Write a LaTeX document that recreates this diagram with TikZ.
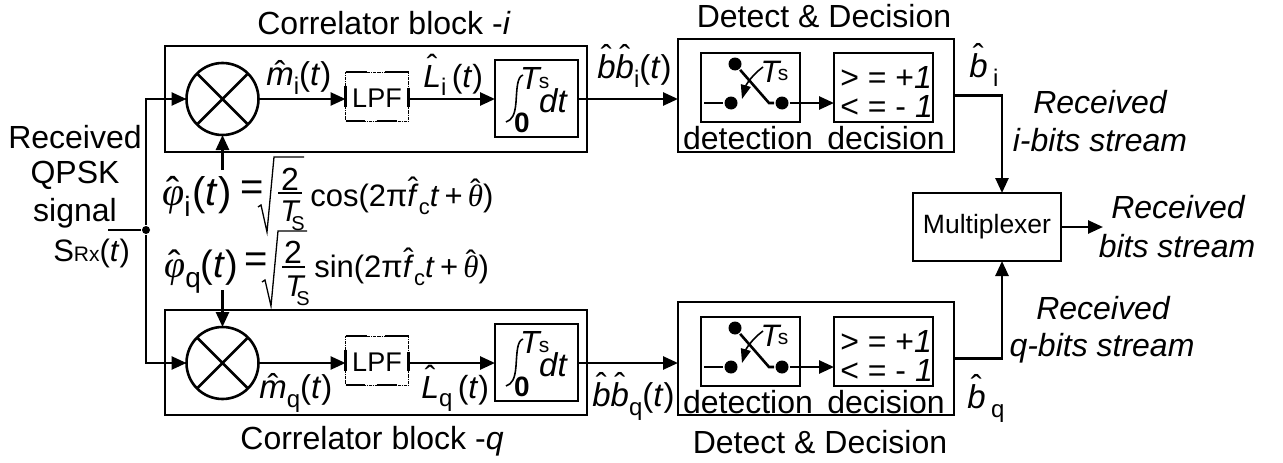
\RequirePackage{fix-cm}
\documentclass[tikz,border=0pt]{standalone}
\usepackage{fontspec}
\setmainfont{Liberation Sans}
\newfontfamily\serifit{Liberation Serif}
\usetikzlibrary{arrows.meta,calc}
\newcommand\fs[1]{\fontsize{#1}{#1}\selectfont}
\newcommand\hatit[2][.03em]{\mbox{\setbox0=\hbox{#2}\rlap{\hbox to\wd0{\hss\raisebox{#1}{\normalfont\char"02C6}\hss}}\box0}}
\newcommand\sub[2][24]{\raisebox{-.28em}{\fs{#1}\normalfont\upshape #2}}
\newcommand\phihat{\hatit[-.02em]{\serifit\itshape φ}}
\newcommand\frT{\textit{T}\kern-9pt\raisebox{-9pt}{\fs{20}S}}
\begin{document}
\begin{tikzpicture}[x=1pt,y=-1pt,line width=2.6pt,
  txt/.style={inner sep=0pt,font=\fs{32}},
  lbl/.style={inner sep=0pt,font=\fs{32},anchor=base west},
  box/.style={draw,line width=2.6pt,inner sep=0pt,outer sep=0pt,anchor=north west},
  ar/.style={-{Triangle[length=15pt,width=13pt]},line width=2.6pt},
  pl/.style={line width=2.6pt},
  thinl/.style={line width=1.3pt},
  itl/.style={inner sep=0pt,font=\fs{32}\itshape},
  dotn/.style={circle,fill,inner sep=0pt,minimum size=#1}]
\useasboundingbox (0,0) rectangle (1283,463);
% outer blocks
\node[box,minimum width=422pt,minimum height=106pt] (cti) at (165,46) {};
\node[box,minimum width=422pt,minimum height=105pt] (ctq) at (165,310) {};
\node[box,minimum width=276pt,minimum height=113pt] (ddi) at (678,39) {};
\node[box,minimum width=276pt,minimum height=113pt] (ddq) at (678,302) {};
\node[txt] (tcti) at (384,23) {Correlator block -\textit{i}};
\node[txt] (tctq) at (372,441) {Correlator block -\textit{q}};
\node[txt] (tddi) at (824,16) {Detect \& Decision};
\node[txt] (tddq) at (820,442) {Detect \& Decision};
% mixers
\foreach \n/\yy in {mi/99,mq/363}{
  \node[draw,circle,line width=2.6pt,minimum size=72pt,inner sep=0pt,outer sep=0pt] (\n) at (222.5,\yy) {};
  \draw[pl] (\n.45) -- (\n.225) (\n.135) -- (\n.315);
}
% LPF
\foreach \n/\yy in {li/72,lq/336}{
  \node[anchor=north west,minimum width=63pt,minimum height=49pt,inner sep=0pt,outer sep=0pt,draw,line width=.8pt,densely dashdotted] (\n) at (345.5,\yy) {};
  \node[inner sep=0pt,font=\fs{27}] (\n t) at ($(\n.center)+(0,2)$) {LPF};
  \draw[line width=2.4pt] (\n.north west) -- ++(21,0) ($(\n.north west)+(39,0)$) -- (\n.north east)
     (\n.south west) -- ++(19,0) ($(\n.south west)+(31,0)$) -- ++(20,0)
     ($(\n.east)+(0,-9)$) -- ($(\n.east)+(0,10)$) ($(\n.west)+(0,-11)$) -- ($(\n.west)+(0,10)$);
}
% integrators
\foreach \n/\a/\h in {ii/60/77,iq/324/77}{
  \node[box,minimum width=83pt,minimum height=\h pt] (\n) at (495,\a) {};
  \node[itl,font=\fs{33}\itshape] (\n d) at ($(\n.north west)+(58,41)$) {dt};
  \node[itl] (\n T) at ($(\n.north west)+(35,18)$) {T};
  \node[txt,font=\fs{21}] (\n s) at ($(\n.north west)+(49,23)$) {s};
  \node[txt,font=\fs{28}\bfseries] (\n 0) at ($(\n.south west)+(27,-14)$) {0};
  \draw[line width=1.6pt] ($(\n.north west)+(28,15)$) .. controls ($(\n.north west)+(22,17)$) and ($(\n.north west)+(22,28)$) .. ($(\n.north west)+(21,42)$) .. controls ($(\n.north west)+(20,55)$) and ($(\n.north west)+(17,60)$) .. ($(\n.north west)+(11,62)$);
}
% detection, decision
\foreach \n/\a in {i/53,q/317}{
  \node[box,minimum width=99pt,minimum height=69pt] (det\n) at (701,\a) {};
  \node[box,minimum width=99pt,minimum height=69pt] (dec\n) at (834,\a) {};
  \node[dotn=13pt] (da\n) at (731,\a+50) {};
  \node[dotn=13pt] (db\n) at (782,\a+50) {};
  \node[dotn=13pt] (dc\n) at (735,\a+11) {};
  \coordinate (s\n) at (704,\a+50);
  \coordinate (e\n) at (795,\a+50);
  \coordinate (k\n) at (769,\a+50);
  \coordinate (u\n) at (763,\a+14);
  \coordinate (w\n) at (742,\a+46);
  \draw[pl] (s\n) -- (da\n);
  \draw[pl] (db\n) -- (e\n);
  \draw[pl] (dc\n) -- (k\n) -- (db\n);
  \draw[-{Triangle[length=14pt,width=10pt]},line width=1.6pt] (u\n) .. controls ($(u\n)+(-11,8)$) and ($(w\n)+(4,-14)$) .. (w\n);
  \node[itl,font=\fs{31}\itshape] (tt\n) at (770,\a+19) {T};
  \node[txt,font=\fs{21}] (ts\n) at (783,\a+22) {s};
  \draw[ar] (e\n) -- (dec\n.west |- e\n);
  \node[txt] (la\n) at (748,\a+85) {detection};
  \node[txt] (lb\n) at (886,\a+85) {decision};
  \node[txt,anchor=base west] (ga\n) at (839,\a+35) {> = +\textit{1}};
  \node[txt,anchor=base west] (gb\n) at (839,\a+64) {< = - \textit{1}};
}
% multiplexer
\node[box,minimum width=148pt,minimum height=68pt] (mux) at (913,193) {};
\node[inner sep=0pt,font=\fs{26.5}] (muxt) at (mux.center) {Multiplexer};
\coordinate (mt) at ($(mux.north west)+(89,0)$);
\coordinate (mb) at ($(mux.south west)+(89,0)$);
\coordinate (mo) at (1103,227);
% signal feed
\coordinate (src) at (108,230);
\node[dotn=8pt] (jn) at (146,230) {};
\draw[pl] (src) -- (jn);
\draw[ar] (jn) |- (mi.west);
\draw[ar] (jn) |- (mq.west);
\coordinate (pi) at (222.5,170);
\coordinate (pq) at (222.5,290);
\draw[ar] (pi) -- (mi.south);
\draw[ar] (pq) -- (mq.north);
% chains
\draw[ar] (mi.east) -- (mi.east -| li.west);
\draw[ar] (mi.east -| li.east) -- (mi.east -| ii.west);
\draw[ar] (mi.east -| ii.east) -- (mi.east -| ddi.west);
\draw[ar] (mq.east) -- (mq.east -| lq.west);
\draw[ar] (mq.east -| lq.east) -- (mq.east -| iq.west);
\draw[ar] (mq.east -| iq.east) -- (mq.east -| ddq.west);
\draw[ar] (ddi.east) -| (mt);
\draw[ar] (ddq.east) -| (mb);
\draw[ar] (mux.east) -- (mo);
% left labels
\node[txt] (r1) at (75,137) {Received};
\node[txt] (r2) at (75,175) {QPSK};
\node[txt] (r3) at (75,213) {signal};
\node[lbl,font=\fs{31}] (r4) at (52,261) {S\fs{21}Rx\fs{31}(\textit{t})};
% signal labels
\node[lbl,font=\fs{33}] (lm1) at (265,85) {\hatit{\textit{m}}\sub{i}(\textit{t})};
\node[lbl] (lL1) at (422,87) {\hatit[.3em]{\textit{L}}\sub{i}\,(\textit{t})};
\node[lbl,font=\fs{33}] (lb1) at (596,78) {\hatit[.3em]{\textit{b}}\hatit[.3em]{\textit{b}}\sub{i}(\textit{t})};
\node[lbl,font=\fs{33}] (lo1) at (968,77) {\hatit[.3em]{\textit{b}}\,\sub{i}};
\node[lbl,font=\fs{33}] (lm2) at (258,398) {\hatit{\textit{m}}\sub{q}(\textit{t})};
\node[lbl] (lL2) at (420,398) {\hatit[.3em]{\textit{L}}\sub{q}\,(\textit{t})};
\node[lbl,font=\fs{33}] (lb2) at (591,406) {\hatit[.3em]{\textit{b}}\hatit[.3em]{\textit{b}}\sub{q}(\textit{t})};
\node[lbl,font=\fs{33}] (lo2) at (966,408) {\hatit[.3em]{\textit{b}}\,\sub{q}};
% right labels
\node[itl] (o1) at (1100,102) {Received};
\node[itl] (o2) at (1100,140) {i-bits stream};
\node[itl] (o3) at (1178,207) {Received};
\node[itl] (o4) at (1177,246) {bits stream};
\node[itl] (o5) at (1103,308) {Received};
\node[itl] (o6) at (1102,348) {q-bits stream};
% equations
\node[lbl,font=\fs{40}] (e1) at (161,205) {\phihat\sub[28]{i}\kern2pt(\textit{t})};
\node[inner sep=0pt,font=\fs{40}] (eq1) at (252,191) {=};
\draw[thinl] (258,207) -- (261,205) -- (267,232) -- (274,157) -- (304,157);
\node[txt] (n1) at (290,179) {2};
\draw[line width=1.8pt] (278,193) -- (302,193);
\node[lbl,font=\fs{30}] (d1) at (279,221) {\frT};
\node[lbl,font=\fs{31}] (c1) at (309,206) {cos(2π\hatit[.2em]{\textit{f}}\sub[22]{c}\textit{t}\,+\,\hatit[.15em]{\serifit\itshape θ})};
\node[lbl,font=\fs{38}] (e2) at (163,277) {\phihat\sub[28]{q}(\textit{t})};
\node[inner sep=0pt,font=\fs{40}] (eq2) at (256,263) {=};
\draw[thinl] (262,282) -- (265,280) -- (271,306) -- (278,231) -- (307,231);
\node[txt] (n2) at (293,252) {2};
\draw[line width=1.8pt] (282,267) -- (305,267);
\node[lbl,font=\fs{30}] (d2) at (284,296) {\frT};
\node[lbl,font=\fs{31}] (c2) at (313,277) {sin(2π\hatit[.2em]{\textit{f}}\sub[22]{c}\textit{t}\,+\,\hatit[.15em]{\serifit\itshape θ})};
\end{tikzpicture}
\end{document}
